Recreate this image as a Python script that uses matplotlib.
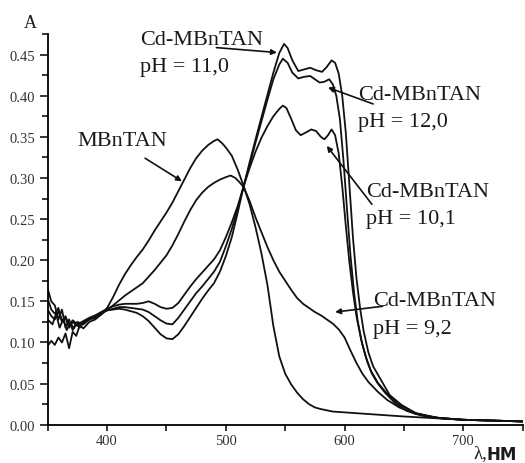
import matplotlib
matplotlib.use("Agg")
import matplotlib.pyplot as plt
from matplotlib.ticker import MultipleLocator, FormatStrFormatter

plt.rcParams['font.family'] = ['Liberation Serif', 'DejaVu Serif']

# absorbance spectra (wavelength, nm / absorbance)
wl_mbntan = [350, 353, 356, 359, 362, 365, 368, 371, 374, 377, 380, 385, 390, 395, 400, 405, 410, 415, 420, 425,
             430, 435, 440, 445, 450, 455, 460, 465, 470, 475, 480, 485, 490, 493, 497, 500, 505, 510, 515, 520,
             525, 530, 535, 540, 545, 550, 555, 560, 565, 570, 575, 580, 590, 600, 620, 650, 700, 750]
a_mbntan = [0.096, 0.102, 0.097, 0.106, 0.100, 0.111, 0.093, 0.113, 0.108, 0.121, 0.117, 0.125, 0.128, 0.134, 0.142, 0.155, 0.170, 0.183, 0.194, 0.204,
            0.213, 0.224, 0.236, 0.247, 0.258, 0.270, 0.284, 0.298, 0.312, 0.324, 0.333, 0.340, 0.345, 0.347, 0.342, 0.337, 0.327, 0.310, 0.290, 0.268,
            0.240, 0.208, 0.170, 0.120, 0.083, 0.062, 0.049, 0.039, 0.031, 0.025, 0.021, 0.019, 0.016, 0.015, 0.013, 0.010, 0.006, 0.004]

wl_ph92 = [350, 354, 357, 360, 363, 366, 369, 372, 375, 380, 385, 390, 395, 400, 405, 410, 415, 420, 425, 430,
           435, 440, 445, 450, 455, 460, 465, 470, 475, 480, 485, 490, 495, 500, 504, 508, 512, 515, 520, 525,
           530, 535, 540, 545, 550, 555, 560, 565, 570, 575, 580, 585, 590, 595, 600, 605, 610, 615, 620, 628,
           636, 646, 660, 680, 700, 750]
a_ph92 = [0.128, 0.122, 0.135, 0.118, 0.128, 0.115, 0.124, 0.117, 0.125, 0.122, 0.128, 0.130, 0.134, 0.140, 0.145, 0.151, 0.157, 0.162, 0.167, 0.172,
          0.180, 0.188, 0.197, 0.206, 0.218, 0.232, 0.247, 0.261, 0.273, 0.282, 0.289, 0.294, 0.298, 0.301, 0.303, 0.300, 0.294, 0.289, 0.272, 0.252,
          0.234, 0.216, 0.200, 0.186, 0.175, 0.164, 0.154, 0.147, 0.142, 0.137, 0.133, 0.128, 0.123, 0.116, 0.106, 0.090, 0.075, 0.062, 0.052, 0.040,
          0.030, 0.021, 0.013, 0.008, 0.006, 0.004]

wl_ph101 = [350, 353, 356, 359, 362, 365, 368, 371, 375, 380, 385, 390, 395, 400, 405, 410, 415, 420, 425,
            430, 435, 440, 445, 450, 455, 460, 465, 470, 475, 480, 485, 490, 495, 500, 505, 510, 515, 520, 525,
            530, 535, 540, 545, 548, 551, 555, 559, 563, 567, 572, 576, 580, 583, 586, 589, 592, 595, 598, 601,
            604, 607, 610, 614, 618, 622, 628, 635, 645, 660, 680, 700, 750]
a_ph101 = [0.140, 0.132, 0.128, 0.138, 0.125, 0.132, 0.120, 0.127, 0.122, 0.126, 0.130, 0.133, 0.137, 0.141, 0.144, 0.146, 0.147, 0.147, 0.147,
           0.148, 0.150, 0.147, 0.143, 0.141, 0.142, 0.148, 0.158, 0.168, 0.177, 0.185, 0.193, 0.201, 0.212, 0.228, 0.246, 0.266, 0.290, 0.312, 0.332,
           0.349, 0.363, 0.375, 0.384, 0.388, 0.385, 0.372, 0.358, 0.352, 0.355, 0.359, 0.357, 0.350, 0.347, 0.352, 0.359, 0.352, 0.330, 0.290, 0.242,
           0.198, 0.162, 0.132, 0.103, 0.082, 0.066, 0.051, 0.039, 0.025, 0.014, 0.008, 0.006, 0.004]

wl_ph110 = [350, 353, 356, 359, 362, 365, 368, 371, 374, 377, 380, 385, 390, 395, 400, 405, 410, 415, 420, 425,
            430, 435, 440, 445, 450, 455, 460, 465, 470, 475, 480, 485, 490, 495, 500, 505, 510, 515, 520, 525,
            530, 535, 540, 545, 549, 552, 556, 561, 566, 571, 576, 581, 585, 589, 592, 595, 598, 601, 604, 607,
            610, 613, 616, 620, 624, 630, 638, 648, 660, 675, 700, 750]
a_ph110 = [0.165, 0.150, 0.145, 0.128, 0.140, 0.118, 0.128, 0.115, 0.124, 0.118, 0.124, 0.128, 0.132, 0.136, 0.139, 0.140, 0.141, 0.140, 0.138, 0.136,
           0.132, 0.126, 0.118, 0.110, 0.105, 0.104, 0.110, 0.120, 0.131, 0.142, 0.153, 0.163, 0.172, 0.186, 0.205, 0.228, 0.258, 0.290, 0.319, 0.347,
           0.374, 0.401, 0.428, 0.452, 0.463, 0.458, 0.443, 0.430, 0.432, 0.434, 0.431, 0.429, 0.435, 0.443, 0.440, 0.427, 0.400, 0.355, 0.292, 0.228,
           0.178, 0.142, 0.114, 0.088, 0.071, 0.056, 0.036, 0.024, 0.014, 0.009, 0.006, 0.004]

wl_ph120 = [350, 353, 356, 359, 362, 365, 368, 371, 375, 380, 385, 390, 395, 400, 405, 410, 415, 420, 425,
            430, 435, 440, 445, 450, 455, 460, 465, 470, 475, 480, 485, 490, 495, 500, 505, 510, 515, 520, 525,
            530, 535, 540, 545, 548, 552, 556, 561, 566, 571, 575, 579, 583, 587, 590, 593, 596, 599, 602, 605,
            608, 611, 615, 619, 623, 628, 634, 642, 652, 665, 680, 700, 750]
a_ph120 = [0.153, 0.140, 0.135, 0.142, 0.126, 0.130, 0.118, 0.125, 0.120, 0.125, 0.128, 0.132, 0.135, 0.139, 0.141, 0.143, 0.143, 0.142, 0.141,
           0.140, 0.137, 0.132, 0.127, 0.123, 0.122, 0.130, 0.140, 0.150, 0.160, 0.168, 0.177, 0.186, 0.198, 0.217, 0.238, 0.263, 0.290, 0.316, 0.343,
           0.369, 0.395, 0.420, 0.438, 0.445, 0.440, 0.428, 0.421, 0.423, 0.424, 0.420, 0.416, 0.417, 0.420, 0.414, 0.400, 0.372, 0.322, 0.262, 0.205,
           0.160, 0.126, 0.097, 0.077, 0.062, 0.050, 0.039, 0.027, 0.017, 0.011, 0.008, 0.006, 0.004]

fig = plt.figure(figsize=(5.25, 4.64), dpi=100)
ax = fig.add_axes([0.0909, 0.0825, 0.9048, 0.842])

for wl, a in [(wl_mbntan, a_mbntan), (wl_ph92, a_ph92), (wl_ph101, a_ph101),
              (wl_ph110, a_ph110), (wl_ph120, a_ph120)]:
    ax.plot(wl, a, color='#111111', linewidth=1.3)

ax.set_xlim(350, 750)
ax.set_ylim(0, 0.475)
ax.spines['top'].set_visible(False)
ax.spines['right'].set_visible(False)
for s in ('left', 'bottom'):
    ax.spines[s].set_linewidth(1.3)

ax.xaxis.set_major_locator(MultipleLocator(100))
ax.xaxis.set_minor_locator(MultipleLocator(50))
ax.yaxis.set_major_locator(MultipleLocator(0.05))
ax.yaxis.set_minor_locator(MultipleLocator(0.025))
ax.yaxis.set_major_formatter(FormatStrFormatter('%.2f'))
ax.set_xticks([400, 500, 600, 700])
ax.tick_params(which='major', direction='out', length=6, width=1.1, labelsize=10.5,
               labelcolor='#333333', pad=3)
ax.tick_params(which='minor', direction='out', length=4, width=1.1)
ax.tick_params(axis='x', which='major', length=4)

# curve labels with arrows
txt = dict(fontsize=16, color='#1a1a1a', va='center', ha='left', linespacing=1.6)
arw = dict(arrowstyle='-|>', color='#111111', lw=1.2, mutation_scale=8, shrinkA=0, shrinkB=0)

ax.annotate('', xy=(463, 0.296), xytext=(432, 0.324), arrowprops=arw)
ax.text(375, 0.345, 'MBnTAN', **txt)

ax.annotate('', xy=(543, 0.4525), xytext=(492, 0.4585), arrowprops=arw)
ax.text(428, 0.452, 'Cd-MBnTAN\npH = 11,0', **txt)

ax.annotate('', xy=(586, 0.410), xytext=(624, 0.390), arrowprops=arw)
ax.text(611, 0.385, 'Cd-MBnTAN\npH = 12,0', **txt)

ax.annotate('', xy=(585, 0.339), xytext=(623, 0.268), arrowprops=arw)
ax.text(618, 0.267, 'Cd-MBnTAN\npH = 10,1', **txt)

ax.annotate('', xy=(592, 0.137), xytext=(632, 0.144), arrowprops=arw)
ax.text(624, 0.134, 'Cd-MBnTAN\npH = 9,2', **txt)

fig.text(30 / 525, 1 - 24 / 464, 'A', fontsize=13, ha='center', va='center', color='#1a1a1a')
fig.text(473 / 525, 1 - 454 / 464, 'λ,', fontsize=13.5, ha='left', va='center', color='#1a1a1a')
fig.text(487 / 525, 1 - 455 / 464, 'НМ', fontsize=12, ha='left', va='center',
         family='DejaVu Sans', weight='bold', color='#1a1a1a')

fig.savefig('out.png', dpi=100)
